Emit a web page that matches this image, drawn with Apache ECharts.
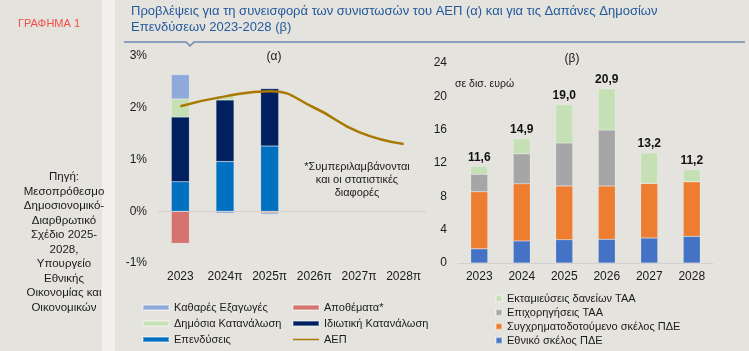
<!DOCTYPE html>
<html><head><meta charset="utf-8">
<script src="https://cdn.jsdelivr.net/npm/echarts@6/dist/echarts.min.js"></script>
<style>html,body{margin:0;padding:0;background:#e5e3de}#c{width:749px;height:351px}</style>
</head><body><div id="c"></div>
<script>
// ---- Data ----
var catsA = ['2023','2024π','2025π','2026π','2027π','2028π'];
var netExports   = [0.47, -0.04, -0.03, null, null, null];
var inventories  = [-0.62, 0, -0.03, null, null, null];
var publicCons   = [0.35, 0.09, 0, null, null, null];
var privateCons  = [1.25, 1.19, 1.11, null, null, null];
var investments  = [0.57, 0.96, 1.26, null, null, null];
var gdp          = [2.03, 2.22, 2.32, 2.0, 1.53, 1.30];
var ticksA = [-1, 0, 1, 2, 3];

var catsB = ['2023','2024','2025','2026','2027','2028'];
var rrfLoans   = [0.95, 1.8, 4.6, 4.95, 3.65, 1.45];
var rrfGrants  = [2.1, 3.6, 5.15, 6.7, 0, 0];
var pdeCofin   = [6.85, 6.85, 6.45, 6.4, 6.55, 6.55];
var pdeNational= [1.7, 2.65, 2.8, 2.85, 3.0, 3.2];
var totalsB    = ['11,6','14,9','19,0','20,9','13,2','11,2'];
var ticksB = [0, 4, 8, 12, 16, 20, 24];

var F = 'Liberation Sans, Arial, sans-serif';
var TXT = '#1a1a1a';
var C = {
  netExp:'#8eaadb', inv:'#d47370', pub:'#c5e0b4', priv:'#002060', invest:'#0070c0', gdp:'#a87800',
  loans:'#c5e0b4', grants:'#a6a6a6', cofin:'#ed7d31', nat:'#4472c4'
};

var chart = echarts.init(document.getElementById('c'), null, {renderer:'canvas'});

function barA(name, data, color, extra){
  var s = {name:name, type:'bar', xAxisIndex:0, yAxisIndex:0, stack:'a', data:data, barWidth:18,
    itemStyle:{color:color, borderColor:'rgba(255,255,255,0.35)', borderWidth:0.5}};
  if (extra) for (var k in extra) s[k]=extra[k];
  return s;
}
function barB(name, data, color, extra){
  var s = {name:name, type:'bar', xAxisIndex:1, yAxisIndex:1, stack:'b', data:data, barWidth:17,
    itemStyle:{color:color, borderColor:'rgba(255,255,255,0.35)', borderWidth:0.5}};
  if (extra) for (var k in extra) s[k]=extra[k];
  return s;
}

var lineIcon = 'path://M0,0 L26,0 M0,1.7 L26,1.7 L26,3.3 L0,3.3 Z M0,5 L26,5';

var option = {
  backgroundColor:'#e5e3de',
  animation:false,
  textStyle:{fontFamily:F},
  title:{
    text:'Προβλέψεις για τη συνεισφορά των συνιστωσών του ΑΕΠ (α) και για τις Δαπάνες Δημοσίων\nΕπενδύσεων 2023-2028 (β)',
    left:126, top:-2,
    textStyle:{fontFamily:F, fontSize:13, fontWeight:'normal', color:'#24599c', lineHeight:16}
  },
  grid:[
    {left:158, top:56, width:268, height:207},
    {left:458, top:63, width:255, height:200}
  ],
  xAxis:[
    {type:'category', gridIndex:0, data:catsA, position:'bottom',
     axisLine:{show:false}, axisTick:{show:false},
     axisLabel:{color:TXT, fontSize:12, fontFamily:F, margin:8, interval:0}},
    {type:'category', gridIndex:1, data:catsB,
     axisLine:{show:true, lineStyle:{color:'#d0d0d0', width:1}}, axisTick:{show:false},
     axisLabel:{color:TXT, fontSize:12, fontFamily:F, margin:8, interval:0}}
  ],
  yAxis:[
    {type:'value', gridIndex:0, min:ticksA[0], max:ticksA[ticksA.length-1], interval:1,
     splitLine:{show:false}, axisLine:{show:false}, axisTick:{show:false},
     axisLabel:{formatter:'{value}%', color:TXT, fontSize:12, fontFamily:F, margin:11}},
    {type:'value', gridIndex:1, min:ticksB[0], max:ticksB[ticksB.length-1], interval:4,
     splitLine:{show:false}, axisLine:{show:false}, axisTick:{show:false},
     axisLabel:{color:TXT, fontSize:12, fontFamily:F, margin:11}}
  ],
  legend:[
    {left:137, top:297, orient:'vertical', itemGap:5, itemWidth:26, itemHeight:5,
     textStyle:{fontFamily:F, fontSize:11, color:TXT},
     data:[{name:'Καθαρές Εξαγωγές', icon:'rect'},{name:'Δημόσια Κατανάλωση', icon:'rect'},{name:'Επενδύσεις', icon:'rect'}]},
    {left:287, top:297, orient:'vertical', itemGap:5, itemWidth:26, itemHeight:5,
     textStyle:{fontFamily:F, fontSize:11, color:TXT},
     data:[{name:'Αποθέματα*', icon:'rect'},{name:'Ιδιωτική Κατανάλωση', icon:'rect'},{name:'ΑΕΠ', icon:lineIcon}]},
    {left:490, top:288, orient:'vertical', itemGap:3, itemWidth:6, itemHeight:6, icon:'rect',
     textStyle:{fontFamily:F, fontSize:11, color:TXT},
     data:['Εκταμιεύσεις δανείων ΤΑΑ','Επιχορηγήσεις ΤΑΑ','Συγχρηματοδοτούμενο σκέλος ΠΔΕ','Εθνικό σκέλος ΠΔΕ']}
  ],
  series:[
    barA('Επενδύσεις', investments, C.invest, {markLine:{silent:true, symbol:'none', label:{show:false},
      lineStyle:{color:'#d2d0cb', type:'solid', width:1}, data:[{yAxis:0}]}}),
    barA('Ιδιωτική Κατανάλωση', privateCons, C.priv),
    barA('Δημόσια Κατανάλωση', publicCons, C.pub),
    barA('Αποθέματα*', inventories, C.inv),
    barA('Καθαρές Εξαγωγές', netExports, C.netExp),
    {name:'ΑΕΠ', type:'line', xAxisIndex:0, yAxisIndex:0, data:gdp, smooth:true, symbol:'none', z:5,
     lineStyle:{color:C.gdp, width:2.5}, itemStyle:{color:C.gdp}},
    barB('Εθνικό σκέλος ΠΔΕ', pdeNational, C.nat),
    barB('Συγχρηματοδοτούμενο σκέλος ΠΔΕ', pdeCofin, C.cofin),
    barB('Επιχορηγήσεις ΤΑΑ', rrfGrants, C.grants),
    barB('Εκταμιεύσεις δανείων ΤΑΑ', rrfLoans, C.loans, {label:{show:true, position:'top', distance:3,
      fontFamily:F, fontSize:12, fontWeight:'bold', color:'#111',
      formatter:function(p){return totalsB[p.dataIndex];}}})
  ],
  graphic:[
    {type:'rect', shape:{x:102, y:0, width:13, height:351}, style:{fill:'#f1f0ec'}, z:-1},
    {type:'polyline', shape:{points:[[124,42],[186,42],[190,46],[194,42],[745,42]]},
     style:{stroke:'#6f88ad', lineWidth:1.5, fill:null}},
    {type:'text', x:49, y:24, style:{text:'ΓΡΑΦΗΜΑ 1', fill:'#ee5049', font:'11px '+F, align:'center', verticalAlign:'middle'}},
    {type:'text', x:64, y:170, style:{text:'Πηγή:\nΜεσοπρόθεσμο\nΔημοσιονομικό-\nΔιαρθρωτικό\nΣχέδιο 2025-\n2028,\nΥπουργείο\nΕθνικής\nΟικονομίας και\nΟικονομικών',
      fill:TXT, font:'11.5px '+F, align:'center', verticalAlign:'top', lineHeight:14.5}},
    {type:'text', x:274, y:57, style:{text:'(α)', fill:TXT, font:'12px '+F, align:'center', verticalAlign:'middle'}},
    {type:'text', x:572, y:59, style:{text:'(β)', fill:TXT, font:'12px '+F, align:'center', verticalAlign:'middle'}},
    {type:'text', x:455, y:84, style:{text:'σε δισ. ευρώ', fill:TXT, font:'10.5px '+F, align:'left', verticalAlign:'middle'}},
    {type:'text', x:357, y:160, style:{text:'*Συμπεριλαμβάνονται\nκαι οι στατιστικές\nδιαφορές', fill:TXT, font:'11px '+F, align:'center', verticalAlign:'top', lineHeight:13}}
  ]
};
chart.setOption(option);
</script>
</body></html>
